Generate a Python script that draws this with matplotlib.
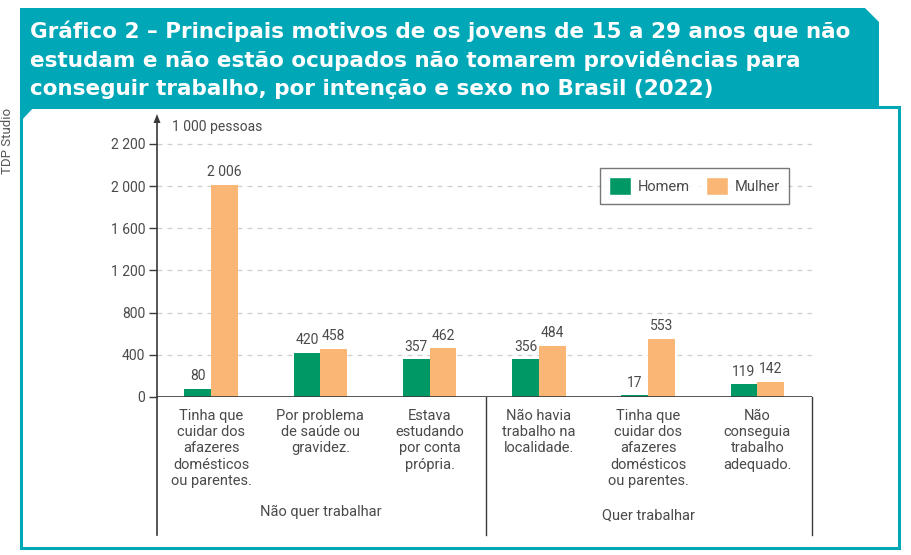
import numpy as np
import matplotlib
matplotlib.use("Agg")
import matplotlib.pyplot as plt
from matplotlib.patches import Polygon, Patch
from matplotlib.lines import Line2D

# ---------------- data ----------------
categories = [
    "Tinha que\ncuidar dos\nafazeres\ndomésticos\nou parentes.",
    "Por problema\nde saúde ou\ngravidez.",
    "Estava\nestudando\npor conta\nprópria.",
    "Não havia\ntrabalho na\nlocalidade.",
    "Tinha que\ncuidar dos\nafazeres\ndomésticos\nou parentes.",
    "Não\nconseguia\ntrabalho\nadequado.",
]
groups = ["Não quer trabalhar", "Quer trabalhar"]
homem = [80, 420, 357, 356, 17, 119]
mulher = [2006, 458, 462, 484, 553, 142]
series_names = ["Homem", "Mulher"]
y_ticks = [0, 400, 800, 1200, 1600, 2000, 2200]
y_tick_labels = ["0", "400", "800", "1 200", "1 600", "2 000", "2 200"]
title_lines = [
    "Gráfico 2 – Principais motivos de os jovens de 15 a 29 anos que não",
    "estudam e não estão ocupados não tomarem providências para",
    "conseguir trabalho, por intenção e sexo no Brasil (2022)",
]
unit_label = "1 000 pessoas"
credit = "TDP Studio"

GREEN = "#009966"
ORANGE = "#F9B675"
TEAL = "#00A7B7"
DARK = "#3a3a3a"
GREY_TXT = "#4a4a4a"

W, H = 912, 555
fig = plt.figure(figsize=(W / 100, H / 100), dpi=100)
fig.patch.set_facecolor("white")

# ---------------- background / frame (pixel coords) ----------------
bg = fig.add_axes([0, 0, 1, 1], zorder=0)
bg.set_xlim(0, W)
bg.set_ylim(H, 0)
bg.axis("off")

# banner
bg.add_patch(Polygon([(20, 8), (865, 8), (879, 22), (879, 106), (20, 106)],
                     closed=True, facecolor=TEAL, edgecolor="none"))
# panel frame
bg.add_patch(Polygon([(21, 107), (899, 107), (899, 548), (21, 548)],
                     closed=True, facecolor="none", edgecolor=TEAL, lw=2.2))
# corner notch
bg.add_patch(Polygon([(20, 106), (35, 106), (20, 122)], closed=True,
                     facecolor=TEAL, edgecolor="none"))

title_font = ["DejaVu Sans"]
renderer = fig.canvas.get_renderer()
probe = bg.text(30, 37, title_lines[0], fontsize=14.6, fontweight="bold",
                family=title_font)
w0 = probe.get_window_extent(renderer).width
probe.remove()
title_size = 14.6 * 822 / w0
for line, yb in zip(title_lines, [38, 67, 95]):
    bg.text(30, yb, line, color="white", fontsize=title_size, fontweight="bold",
            family=title_font, va="baseline", ha="left")

bg.text(8, 141, credit, rotation=90, fontsize=9.5, color="#555555",
        ha="center", va="center", family=["Roboto", "DejaVu Sans"])

# ---------------- chart axes ----------------
x0, x1 = 157, 812
y_zero, y_top = 397, 118
ax = fig.add_axes([x0 / W, (H - y_zero) / H, (x1 - x0) / W, (y_zero - y_top) / H],
                  zorder=1)
ax.patch.set_alpha(0)


def fwd(y):
    y = np.asarray(y, dtype=float)
    return np.where(y <= 2000, y, 2000 + (y - 2000) * 2)


def inv(t):
    t = np.asarray(t, dtype=float)
    return np.where(t <= 2000, t, 2000 + (t - 2000) / 2)


ax.set_yscale("function", functions=(fwd, inv))
ax.set_ylim(0, float(inv(2400 + 26 * 400 / 42.17)))

n = len(categories)
x = np.arange(n)
bw = 0.245
ax.bar(x - bw / 2, homem, bw, color=GREEN, zorder=3, linewidth=0)
ax.bar(x + bw / 2, mulher, bw, color=ORANGE, zorder=3, linewidth=0)
ax.set_xlim(-0.495, n - 0.5)

lab_font = ["Roboto", "DejaVu Sans"]
for xi, v in zip(x - bw / 2, homem):
    ax.annotate(f"{v:,}".replace(",", " "), (xi, v), xytext=(0, 4),
                textcoords="offset points", ha="center", va="bottom",
                fontsize=10, color=GREY_TXT, family=lab_font)
for xi, v in zip(x + bw / 2, mulher):
    ax.annotate(f"{v:,}".replace(",", " "), (xi, v), xytext=(0, 4),
                textcoords="offset points", ha="center", va="bottom",
                fontsize=10, color=GREY_TXT, family=lab_font)

ax.set_yticks(y_ticks)
ax.set_yticklabels(y_tick_labels, family=lab_font, fontsize=10, color=GREY_TXT)
ax.set_xticks([])
ax.tick_params(axis="y", length=5.5, width=1, color=DARK, pad=3)
ax.yaxis.grid(True, color="#cfcfcf", linestyle=(0, (4, 4)), linewidth=0.9, zorder=0)
for s in ["top", "right", "bottom"]:
    ax.spines[s].set_visible(False)
ax.spines["left"].set_color(DARK)
ax.spines["left"].set_linewidth(1.2)

# zero line
ax.axhline(0, color=DARK, lw=1.2, zorder=4)

# legend
handles = [Patch(facecolor=GREEN, edgecolor="white"), Patch(facecolor=ORANGE, edgecolor="white")]
leg = ax.legend(handles, series_names, loc="upper left",
                bbox_to_anchor=(600 / W, 1 - 168 / H), bbox_transform=fig.transFigure,
                ncol=2, frameon=True, fancybox=False, edgecolor="#555555",
                handlelength=1.5, handleheight=1.6, columnspacing=1.1,
                handletextpad=0.5, borderpad=0.6, borderaxespad=0,
                prop={"family": lab_font, "size": 10.5})
leg.get_frame().set_linewidth(1.0)
for t in leg.get_texts():
    t.set_color(GREY_TXT)

# ---------------- category + group labels (below axis) ----------------
cat_font = ["Roboto", "DejaVu Sans"]
trans = ax.get_xaxis_transform()
for xi, c in zip(x, categories):
    ax.annotate(c, (xi, 0), xycoords=trans, xytext=(0, -(416 - y_zero) * 0.72 + 5),
                textcoords="offset points", ha="center", va="top",
                fontsize=10.5, color=GREY_TXT, family=cat_font, linespacing=1.2,
                annotation_clip=False)

group_centers = [1, 4]
group_y = [512, 515]
for gx, g, gy in zip(group_centers, groups, group_y):
    ax.annotate(g, (gx, 0), xycoords=trans, xytext=(0, -(gy - y_zero) * 0.72),
                textcoords="offset points", ha="center", va="center",
                fontsize=10.5, color=GREY_TXT, family=cat_font,
                annotation_clip=False)

# axis extension lines and separators below zero
bg.add_line(Line2D([x0, x0], [y_zero, 535], color=DARK, lw=1.2))
bg.add_line(Line2D([486, 486], [y_zero, 535], color=DARK, lw=1.0))
bg.add_line(Line2D([x1, x1], [y_zero, 535], color=DARK, lw=1.0))
# arrow head
bg.add_patch(Polygon([(157, 114), (153.5, 123), (160.5, 123)], closed=True,
                     facecolor=DARK, edgecolor="none"))
bg.text(172, 127, unit_label, fontsize=10, color=GREY_TXT, family=lab_font,
        ha="left", va="center")

fig.savefig("out.png", dpi=100, facecolor="white")
